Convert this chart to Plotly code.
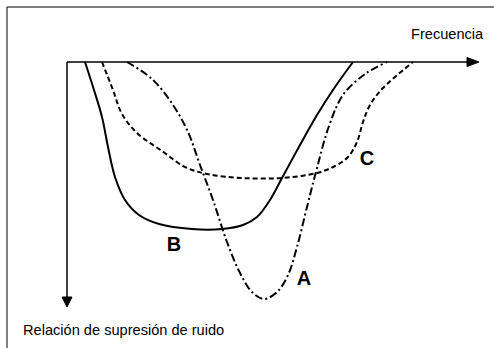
"""Noise suppression ratio vs frequency sketch (curves A, B, C)."""

import plotly.graph_objects as go

# frequency (x) and suppression depth (y, grows downward) for each curve
freq_a = [60, 85, 106, 121, 133, 146, 160, 173, 185, 197, 210, 221, 230, 240, 250, 262, 276, 298, 320]
supp_a = [0, 17, 43, 70, 103, 138, 180, 211, 230, 237, 230, 213, 185, 145, 106, 64, 33, 12, 0]

freq_b = [18, 27, 35, 41, 48, 58, 72, 92, 125, 155, 176, 190, 203, 215, 233, 250, 268, 286]
supp_b = [0, 28, 55, 85, 115, 138, 153, 162, 167, 167, 163, 155, 138, 116, 83, 53, 25, 0]

freq_c = [35, 46, 55, 70, 95, 118, 140, 175, 215, 250, 268, 281, 290, 296, 303, 316, 346]
supp_c = [0, 28, 52, 71, 89, 105, 112, 116, 116, 111, 104, 95, 80, 60, 43, 26, 0]

curve_labels = ['A', 'B', 'C']
label_freq = [237, 107, 300]
label_supp = [218, 184, 98]

x_title = 'Frecuencia'
y_title = 'Relación de supresión de ruido'

FONT = 'Liberation Sans, Arial, Helvetica, sans-serif'

fig = go.Figure()

curves = [
    (freq_a, supp_a, '8px,3px,2px,3px'),
    (freq_b, supp_b, 'solid'),
    (freq_c, supp_c, '5px,3px'),
]
for xs, ys, dash in curves:
    fig.add_trace(go.Scatter(
        x=xs, y=ys, mode='lines',
        line=dict(color='black', width=2, dash=dash, shape='spline', smoothing=1.0),
        hoverinfo='skip', showlegend=False,
    ))

fig.add_trace(go.Scatter(
    x=label_freq, y=label_supp, mode='text', text=curve_labels,
    textfont=dict(family=FONT, size=20, color='black', weight='bold'),
    textposition='middle center', hoverinfo='skip', showlegend=False,
))

shapes = [
    # outer frame (runs off the right and bottom edges)
    dict(type='rect', x0=-60, y0=-55, x1=520, y1=400, line=dict(color='black', width=1)),
    # axes
    dict(type='line', x0=0, y0=0, x1=402, y1=0, line=dict(color='black', width=1.5)),
    dict(type='line', x0=0, y0=0, x1=0, y1=237, line=dict(color='black', width=1.5)),
    dict(type='path', path='M 400,-4.5 L 412,0 L 400,4.5 Z', fillcolor='black', line=dict(color='black', width=1)),
    dict(type='path', path='M -5,235 L 0,245 L 5,235 Z', fillcolor='black', line=dict(color='black', width=1)),
]

annotations = [
    dict(x=419, y=-28, text=x_title, showarrow=False, xanchor='right', yanchor='middle',
         font=dict(family=FONT, size=14.6, color='black')),
    dict(x=-46, y=268, text=y_title, showarrow=False, xanchor='left', yanchor='middle',
         font=dict(family=FONT, size=14.6, color='black')),
]

fig.update_layout(
    width=494, height=348,
    margin=dict(l=0, r=0, t=0, b=0),
    paper_bgcolor='white', plot_bgcolor='white',
    xaxis=dict(range=[-67, 427], visible=False, fixedrange=True),
    yaxis=dict(range=[286, -62], visible=False, fixedrange=True),
    shapes=shapes,
    annotations=annotations,
    showlegend=False,
)

# drop the browser's default body margin so the figure sits at the page corner
fig.write_html(
    'out.html',
    config={'displayModeBar': False},
    post_script="document.body.style.margin = '0'; document.body.style.overflow = 'hidden';",
)
